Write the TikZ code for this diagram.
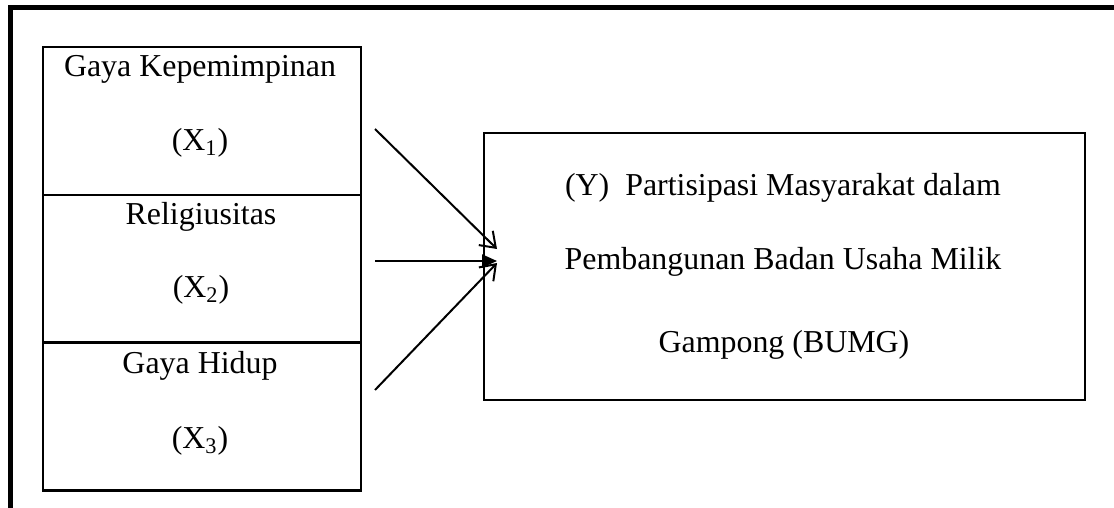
\documentclass[tikz,border=0pt]{standalone}
\usepackage{fontspec}
\setmainfont{Liberation Serif}
\usetikzlibrary{arrows.meta}
\begin{document}
\begin{tikzpicture}[x=0.5pt,y=-0.5pt,
  box/.style={draw,line width=1.4pt,minimum width=159pt,minimum height=74pt,inner sep=0pt},
  ybox/.style={draw,line width=1.4pt,minimum width=300.5pt,minimum height=133.5pt,inner sep=0pt},
  txt/.style={anchor=base,inner sep=0pt,font=\fontsize{15.95}{19}\selectfont},
  barb/.style={line width=1pt,-{Straight Barb[length=7pt,width=10pt,line width=1pt]}},
  tri/.style={line width=1pt,-{Triangle[length=7.5pt,width=6.5pt]}}]
\useasboundingbox (0,0) rectangle (1114,508);
% outer frame
\draw[line width=2.5pt,line join=miter] (10.5,510) -- (10.5,7.5) -- (1116,7.5);
% left boxes
\node[box] (x1) at (202,121) {};
\node[box] (x2) at (202,269) {};
\node[box] (x3) at (202,416.5) {};
\node[txt] (t1a) at (200,76.7) {Gaya Kepemimpinan};
\node[txt] (t1b) at (200,150) {(X\textsubscript{1})};
\node[txt] (t2a) at (201,224) {Religiusitas};
\node[txt] (t2b) at (201,297) {(X\textsubscript{2})};
\node[txt] (t3a) at (200,373) {Gaya Hidup};
\node[txt] (t3b) at (200,448) {(X\textsubscript{3})};
% right box
\node[ybox] (y) at (784.5,266.5) {};
\node[txt] (ya) at (783,196) {(Y)\ \ Partisipasi Masyarakat dalam};
\node[txt] (yb) at (783,269) {Pembangunan Badan Usaha Milik};
\node[txt] (yc) at (784,352) {Gampong (BUMG)};
% arrows
\coordinate (s1) at (375,129);
\coordinate (s2) at (375,261);
\coordinate (s3) at (375,390);
\coordinate (e1) at (497,249);
\coordinate (e2) at (497,261);
\coordinate (e3) at (497,263);
\draw[barb] (s1) -- (e1);
\draw[tri] (s2) -- (e2);
\draw[barb] (s3) -- (e3);
\end{tikzpicture}
\end{document}
